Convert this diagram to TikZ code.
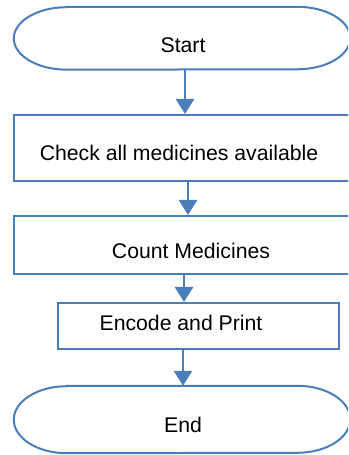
\documentclass[tikz,border=0pt]{standalone}
\usepackage{fontspec}
\setmainfont{Liberation Sans}
\usetikzlibrary{arrows.meta}
\definecolor{flowblue}{HTML}{4A7EBB}
\begin{document}
\begin{tikzpicture}[x=1bp,y=1bp,
  ln/.style={draw=flowblue,line width=2bp},
  box/.style={rectangle,draw=flowblue,line width=2bp,inner sep=0pt},
  term/.style={rectangle,draw=none,inner sep=0pt,minimum width=336bp},
  lbl/.style={font=\fontsize{21.3}{24}\selectfont,anchor=base,inner sep=0pt},
  arr/.style={draw=flowblue,line width=2.8bp,-{Triangle[width=18bp,length=15bp]}}]
\useasboundingbox (0,0) rectangle (348,455);
\fill[white] (0,0) rectangle (348,455);
\clip (0,0) rectangle (348,455);
% shapes
\node[term,minimum height=62.5bp] (start) at (182,416.75) {};
\draw[ln] ([xshift=53bp]start.north west) -- ([xshift=-53bp]start.north east)
  arc[start angle=90,end angle=-90,x radius=53bp,y radius=31.25bp]
  -- ([xshift=53bp]start.south west)
  arc[start angle=270,end angle=90,x radius=53bp,y radius=31.25bp] -- cycle;
\node[box,minimum width=338bp,minimum height=66bp] (check) at (183,307) {};
\node[box,minimum width=338bp,minimum height=58bp] (count) at (183,210) {};
\node[box,minimum width=281bp,minimum height=46bp] (encode) at (198.5,129) {};
\node[term,minimum height=67bp] (end) at (182,35.5) {};
\draw[ln] ([xshift=53bp]end.north west) -- ([xshift=-53bp]end.north east)
  arc[start angle=90,end angle=-90,x radius=53bp,y radius=33.5bp]
  -- ([xshift=53bp]end.south west)
  arc[start angle=270,end angle=90,x radius=53bp,y radius=33.5bp] -- cycle;
% labels
\node[lbl] (tstart) at (183,402.3) {Start};
\node[lbl] (tcheck) at (179,294.4) {Check all medicines available};
\node[lbl] (tcount) at (191,196.7) {Count Medicines};
\node[lbl] (tencode) at (181,124.3) {Encode and Print};
\node[lbl] (tend) at (183,22) {End};
% arrow columns
\coordinate (c1) at (185,0);
\coordinate (c2) at (188,0);
\coordinate (c3) at (184,0);
\coordinate (c4) at (183,0);
\draw[arr] (start.south -| c1) -- (check.north -| c1);
\draw[arr] (check.south -| c2) -- (count.north -| c2);
\draw[arr] (count.south -| c3) -- (encode.north -| c3);
\draw[arr] (encode.south -| c4) -- (end.north -| c4);
\end{tikzpicture}
\end{document}
